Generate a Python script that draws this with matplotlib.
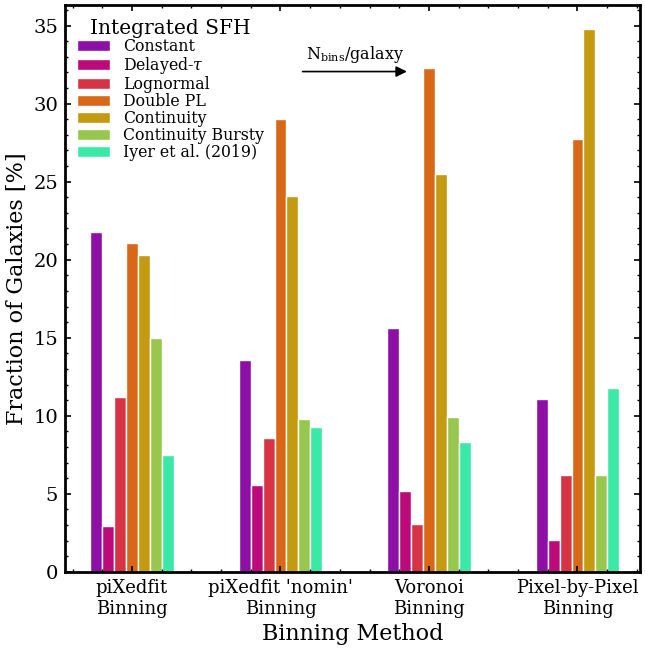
import numpy as np
import matplotlib
matplotlib.use("Agg")
import matplotlib.pyplot as plt
from matplotlib.ticker import MultipleLocator

plt.rcParams['font.family'] = ['DejaVu Serif']
plt.rcParams['mathtext.fontset'] = 'dejavuserif'

methods = ["piXedfit\nBinning", "piXedfit 'nomin'\nBinning",
           "Voronoi\nBinning", "Pixel-by-Pixel\nBinning"]
sfh_models = ["Constant", r"Delayed-$\tau$", "Lognormal", "Double PL",
              "Continuity", "Continuity Bursty", "Iyer et al. (2019)"]

constant = [21.75, 13.55, 15.6, 11.1]
delayed_tau = [2.95, 5.55, 5.2, 2.05]
lognormal = [11.2, 8.6, 3.05, 6.2]
double_pl = [21.05, 29.0, 32.3, 27.75]
continuity = [20.3, 24.05, 25.5, 34.75]
continuity_bursty = [15.0, 9.8, 9.9, 6.2]
iyer = [7.5, 9.25, 8.3, 11.8]

fractions = [constant, delayed_tau, lognormal, double_pl,
             continuity, continuity_bursty, iyer]
colors = ["#8e0fa6", "#bd0a7a", "#d63444", "#d86818",
          "#c39a10", "#97c84d", "#3ae9a5"]

fig = plt.figure(figsize=(6.45, 6.51), dpi=100)
ax = fig.add_axes([0.101, 0.1215, 0.891, 0.8705])

x = np.arange(len(methods))
width = 0.08
n = len(sfh_models)
for i, (vals, label, c) in enumerate(zip(fractions, sfh_models, colors)):
    offset = (i - (n - 1) / 2) * width
    ax.bar(x + offset, vals, width, color=c, edgecolor="white",
           linewidth=1.0, label=label)

ax.set_xlim(-0.45, 3.42)
ax.set_ylim(0, 36.3)
ax.set_xticks(x)
ax.set_xticklabels(methods, fontsize=13, linespacing=1.25)
ax.xaxis.set_minor_locator(MultipleLocator(0.2))
ax.yaxis.set_major_locator(MultipleLocator(5))
ax.yaxis.set_minor_locator(MultipleLocator(1))
ax.tick_params(axis="y", labelsize=14)
ax.tick_params(which="both", direction="in", top=True, right=True)
ax.tick_params(which="major", length=4, width=1.2, pad=5)
ax.tick_params(which="minor", length=2.5, width=1.0)
for sp in ax.spines.values():
    sp.set_linewidth(2)

ax.set_xlabel("Binning Method", fontsize=16, labelpad=3)
ax.set_ylabel("Fraction of Galaxies [%]", fontsize=16)

ax.annotate("", xy=(1.87, 32.05), xytext=(1.13, 32.05),
            arrowprops=dict(arrowstyle="-|>", color="black", lw=1.2,
                            mutation_scale=16))
ax.text(1.5, 32.45, r"N$_{\rm bins}$/galaxy", fontsize=11.5,
        ha="center", va="bottom")

leg = ax.legend(loc="upper left", bbox_to_anchor=(0.0015, 0.995),
                title="Integrated SFH", frameon=False,
                fontsize=11.3, title_fontsize=14.5, handlelength=2.1,
                handleheight=0.7, labelspacing=0.0, borderaxespad=0.3,
                handletextpad=0.85)

fig.savefig("out.png", dpi=100)
